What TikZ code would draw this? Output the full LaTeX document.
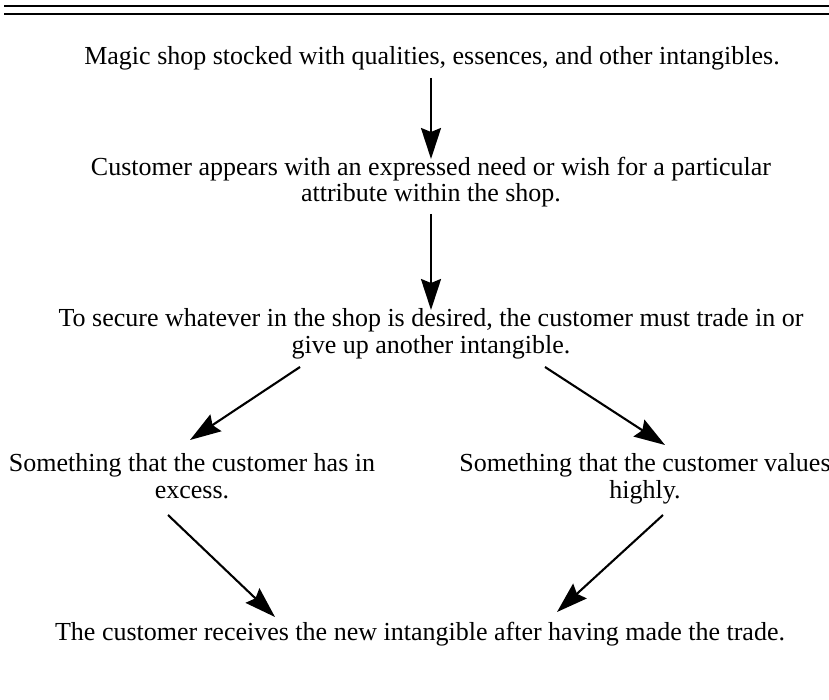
\documentclass[tikz,border=0pt]{standalone}
\usepackage{fontspec}
\setmainfont{Liberation Serif}
\usetikzlibrary{arrows.meta}
\begin{document}
\begin{tikzpicture}[x=1pt,y=-1pt,
  txt/.style={font=\fontsize{26}{26.5}\selectfont, align=center, anchor=base, inner sep=0pt},
  arr/.style={line width=2.4pt, -{Stealth[length=31pt,width=20pt,inset=4pt]}},
  darr/.style={line width=2.1pt, -{Stealth[length=31pt,width=20pt,inset=4pt]}}]
\useasboundingbox (0,0) rectangle (829,700);
% double rule at the top
\draw[line width=1.2pt] (4,6) -- (829,6);
\draw[line width=2.4pt] (4,14) -- (829,14);
% texts (base anchor = baseline of the last line)
\node[txt] (magic) at (432,65) {Magic shop stocked with qualities, essences, and other intangibles.};
\node[txt] (customer) at (431,202) {Customer appears with an expressed need or wish for a particular\\attribute within the shop.};
\node[txt] (secure) at (431,353) {To secure whatever in the shop is desired, the customer must trade in or\\give up another intangible.};
\node[txt] (excess) at (192,498) {Something that the customer has in\\excess.};
\node[txt] (values) at (645,498) {Something that the customer values\\highly.};
\node[txt] (receives) at (420,640) {The customer receives the new intangible after having made the trade.};
% connector ends
\coordinate (a1s) at (431,78);
\coordinate (a1e) at (431,159);
\coordinate (a2s) at (431,214);
\coordinate (a2e) at (431,310);
\coordinate (l1s) at (300,367);
\coordinate (l1e) at (190,440);
\coordinate (r1s) at (545,367);
\coordinate (r1e) at (665,445);
\coordinate (l2s) at (168,515);
\coordinate (l2e) at (275,617);
\coordinate (r2s) at (663,515);
\coordinate (r2e) at (557,612);
% connectors
\draw[arr] (a1s) -- (a1e);
\draw[arr] (a2s) -- (a2e);
\draw[darr] (l1s) -- (l1e);
\draw[darr] (r1s) -- (r1e);
\draw[darr] (l2s) -- (l2e);
\draw[darr] (r2s) -- (r2e);
\end{tikzpicture}
\end{document}
